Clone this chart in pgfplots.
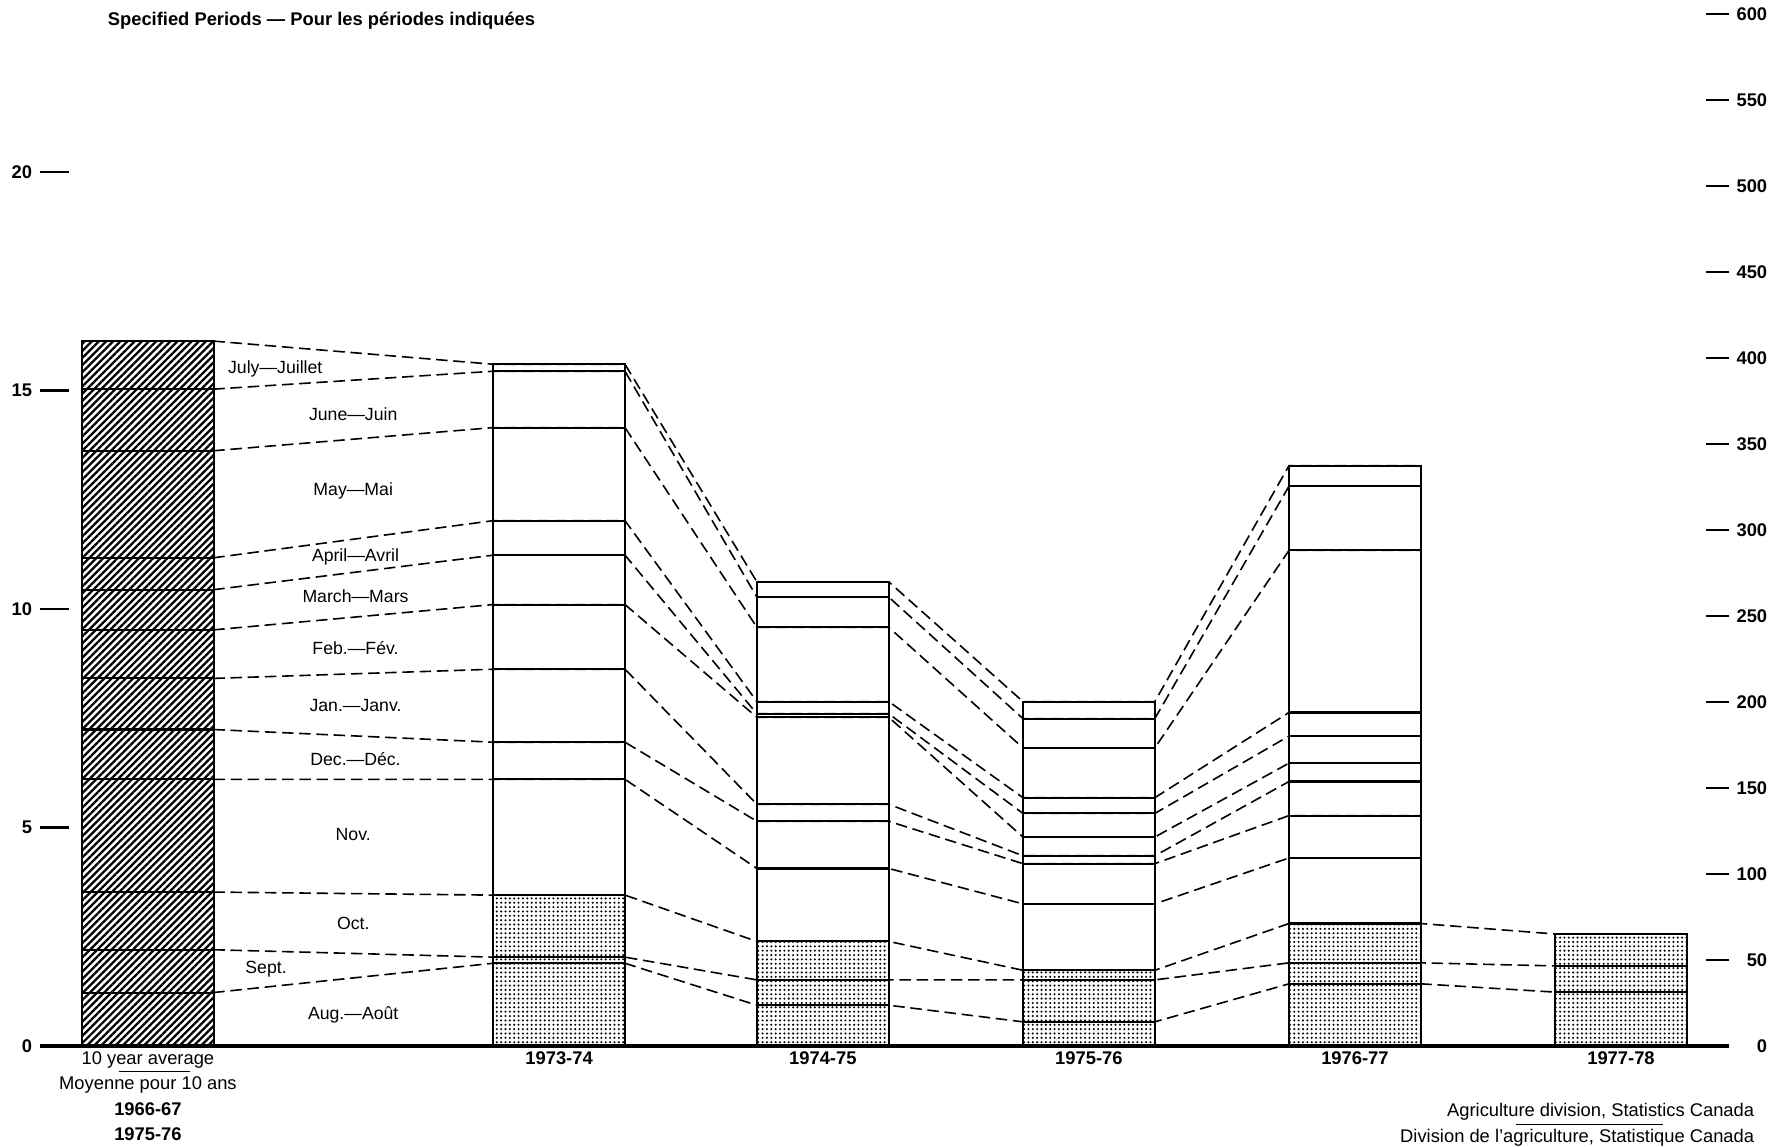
\documentclass[border=0pt]{standalone}
\usepackage{fontspec}
\setmainfont{Liberation Sans}
\usepackage{pgfplots}
\usepackage{pgfplotstable}
\pgfplotsset{compat=1.18}
\usetikzlibrary{patterns.meta}

% cumulative tops of the monthly segments, million bushels (left scale)
\pgfplotstableread{
x      aug  sep  oct  nov  dec  jan  feb  mar   apr   may   jun   jul
129    1.22 2.20 3.52 6.10 7.24 8.41 9.52 10.44 11.17 13.62 15.03 16.13
487.5  1.89 2.03 3.45 6.10 6.95 8.62 10.10 11.23 12.02 14.15 15.44 15.60
717.5  0.93 1.51 2.39 4.06 5.14 5.53 7.52 7.60 7.88 9.58 10.27 10.62
949.5  0.55 1.51 1.73 3.25 4.17 4.35 4.78 5.32 5.68 6.82 7.49 7.88
1181.5 1.42 1.90 2.80 4.30 5.27 6.05 6.47 7.09 7.63 11.34 12.81 13.28
1413.5 1.23 1.83 2.56 nan nan nan nan nan nan nan nan nan
}\cum

% same levels at the bar edges, for the dashed connectors
\pgfplotstableread{
x      aug  sep  oct  nov  dec  jan  feb  mar   apr   may   jun   jul
186    1.22 2.20 3.52 6.10 7.24 8.41 9.52 10.44 11.17 13.62 15.03 16.13
430    1.89 2.03 3.45 6.10 6.95 8.62 10.10 11.23 12.02 14.15 15.44 15.60
545    1.89 2.03 3.45 6.10 6.95 8.62 10.10 11.23 12.02 14.15 15.44 15.60
660    0.93 1.51 2.39 4.06 5.14 5.53 7.52 7.60 7.88 9.58 10.27 10.62
775    0.93 1.51 2.39 4.06 5.14 5.53 7.52 7.60 7.88 9.58 10.27 10.62
892    0.55 1.51 1.73 3.25 4.17 4.35 4.78 5.32 5.68 6.82 7.49 7.88
1007   0.55 1.51 1.73 3.25 4.17 4.35 4.78 5.32 5.68 6.82 7.49 7.88
1124   1.42 1.90 2.80 4.30 5.27 6.05 6.47 7.09 7.63 11.34 12.81 13.28
1239   1.42 1.90 2.80 4.30 5.27 6.05 6.47 7.09 7.63 11.34 12.81 13.28
1356   1.23 1.83 2.56 nan nan nan nan nan nan nan nan nan
}\edges

\begin{document}
\begin{tikzpicture}
\path[use as bounding box] (0pt,0pt) rectangle (780pt,500pt);

\begin{axis}[
    at={(17.5pt,44pt)}, anchor=south west,
    scale only axis, width=736.5pt, height=450pt,
    xmin=35, xmax=1508, ymin=0, ymax=23.622,
    clip=false, axis on top,
    axis x line*=bottom, axis y line*=left,
    axis line style={-},
    x axis line style={line width=1.5pt},
    y axis line style={draw=none},
    xtick={129,487.5,717.5,949.5,1181.5,1413.5},
    xticklabels={{10 year average\\Moyenne pour 10 ans\\\textbf{1966-67}\\\textbf{1975-76}},
                 \textbf{1973-74},\textbf{1974-75},\textbf{1975-76},\textbf{1976-77},\textbf{1977-78}},
    xticklabel style={align=center, anchor=north, font=\fontsize{8}{11.1}\selectfont, yshift=1pt},
    major x tick style={draw=none},
    ytick={0,5,10,15,20},
    tick align=inside, major tick length=12.5pt,
    ytick style={line width=1pt, black},
    yticklabel style={font=\bfseries\fontsize{8}{9.6}\selectfont},
    /pgf/number format/assume math mode=true,
    bar width=115,
]

% 10 year average, hatched
\pgfplotsinvokeforeach{jul,jun,may,apr,mar,feb,jan,dec,nov,oct,sep,aug}{
  \addplot[ybar, bar shift=0pt, draw=black, line width=0.9pt, fill=white,
    postaction={pattern={Lines[angle=45,distance=2.2pt,line width=1pt]}}]
    table[x=x, y=#1, skip coords between index={1}{6}] {\cum};
}
% crop years: Nov-Jul white
\pgfplotsinvokeforeach{jul,jun,may,apr,mar,feb,jan,dec,nov}{
  \addplot[ybar, bar shift=0pt, draw=black, line width=0.9pt, fill=white]
    table[x=x, y=#1, skip coords between index={0}{1}] {\cum};
}
% Aug-Oct stippled
\pgfplotsinvokeforeach{oct,sep,aug}{
  \addplot[ybar, bar shift=0pt, draw=black, line width=0.9pt, fill=white,
    postaction={pattern={Dots[distance=1.9pt,radius=0.5pt]}}]
    table[x=x, y=#1, skip coords between index={0}{1}] {\cum};
}

% dashed connectors
\pgfplotsinvokeforeach{aug,sep,oct,nov,dec,jan,feb,mar,apr,may,jun,jul}{
  \addplot[black, line width=0.7pt, dash pattern=on 5pt off 2.5pt, unbounded coords=jump]
    table[x=x, y=#1] {\edges};
}

% month labels
\begin{scope}[every node/.style={font=\fontsize{7.7}{9}\selectfont}]
\node at (axis cs:240,15.49) {July---Juillet};
\node at (axis cs:308,14.46) {June---Juin};
\node at (axis cs:308,12.70) {May---Mai};
\node at (axis cs:310,11.18) {April---Avril};
\node at (axis cs:310,10.29) {March---Mars};
\node at (axis cs:310,9.11) {Feb.---Fév.};
\node at (axis cs:310,7.80) {Jan.---Janv.};
\node at (axis cs:310,6.56) {Dec.---Déc.};
\node at (axis cs:308,4.83) {Nov.};
\node at (axis cs:308,2.81) {Oct.};
\node at (axis cs:232,1.76) {Sept.};
\node at (axis cs:308,0.71) {Aug.---Août};
\end{scope}

\node[anchor=west, font=\bfseries\fontsize{8}{9.6}\selectfont] at (axis cs:87,23.46)
  {Specified Periods --- Pour les périodes indiquées};

\draw[line width=0.6pt] (axis cs:104,-0.58) -- (axis cs:166,-0.58);

\node[anchor=north east, align=right, inner sep=0pt, font=\fontsize{8}{11.2}\selectfont]
  at (axis cs:1530,-1.30)
  {Agriculture division, Statistics Canada\\Division de l'agriculture, Statistique Canada};
\draw[line width=0.6pt] (axis cs:1322,-1.80) -- (axis cs:1450,-1.80);
\end{axis}

% right scale, thousand tonnes
\begin{axis}[
    at={(17.5pt,44pt)}, anchor=south west,
    scale only axis, width=736.5pt, height=450pt,
    xmin=35, xmax=1508, ymin=0, ymax=600,
    hide x axis, axis y line*=right,
    axis line style={-},
    y axis line style={draw=none},
    ytick={0,50,...,600},
    tick align=inside, major tick length=10pt,
    ytick style={line width=1pt, black},
    yticklabel style={anchor=east, xshift=20pt, font=\bfseries\fontsize{8}{9.6}\selectfont},
    /pgf/number format/assume math mode=true,
]
\end{axis}
\end{tikzpicture}
\end{document}
